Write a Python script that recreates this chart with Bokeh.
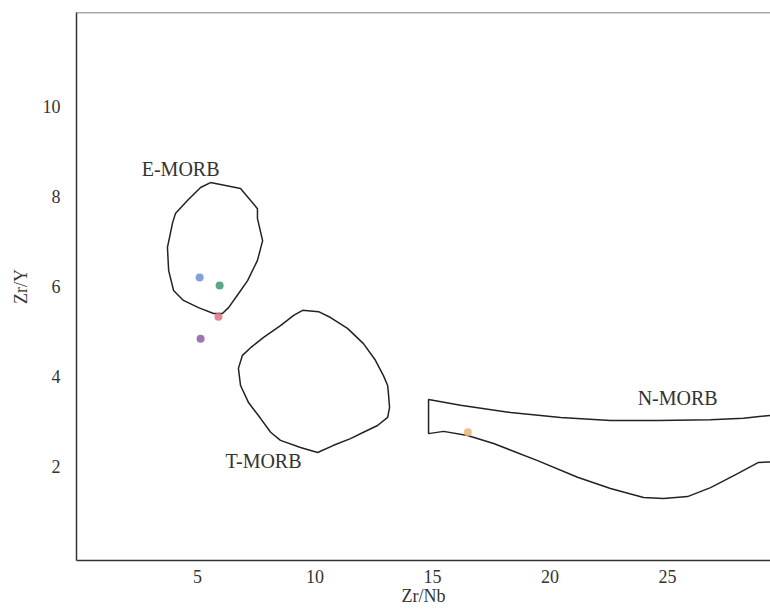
from bokeh.plotting import figure
from bokeh.models import Range1d, FixedTicker, Span
from bokeh.core.properties import value
from bokeh.embed import file_html
from bokeh.resources import INLINE

# ---- data ----
x_ticks = [5, 10, 15, 20, 25]
y_ticks = [2, 4, 6, 8, 10]

emorb_x = [5.55, 6.83, 7.55, 7.55, 7.77, 7.55, 7.13, 6.74, 6.32, 6.06, 5.68, 5.04,
           4.40, 3.98, 3.77, 3.72, 3.94, 4.06, 4.57, 5.13, 5.55]
emorb_y = [8.31, 8.18, 7.73, 7.51, 7.02, 6.58, 6.13, 5.84, 5.53, 5.40, 5.40, 5.53,
           5.69, 5.91, 6.36, 6.87, 7.42, 7.62, 7.91, 8.20, 8.31]

tmorb_x = [9.47, 10.15, 10.66, 11.38, 12.06, 12.57, 12.91, 13.09, 13.13, 13.17, 13.09,
           12.66, 12.06, 11.51, 10.79, 10.11, 9.38, 8.53, 8.11, 7.68, 7.17, 6.83, 6.74,
           6.91, 7.26, 7.81, 8.53, 9.09, 9.47]
tmorb_y = [5.47, 5.44, 5.31, 5.07, 4.73, 4.36, 4.02, 3.80, 3.58, 3.31, 3.09,
           2.91, 2.76, 2.62, 2.47, 2.31, 2.42, 2.58, 2.76, 3.07, 3.42, 3.80, 4.18,
           4.47, 4.64, 4.87, 5.13, 5.36, 5.47]

nmorb_x = [29.80, 28.23, 26.83, 24.57, 22.57, 20.45, 18.32, 16.19, 14.83,
           14.83, 15.47, 16.49, 17.60, 19.47, 21.17, 22.57, 23.98, 24.83, 25.85,
           26.83, 27.98, 28.87, 29.80]
nmorb_y = [3.16, 3.07, 3.04, 3.02, 3.02, 3.09, 3.20, 3.36, 3.49,
           2.73, 2.78, 2.69, 2.51, 2.13, 1.76, 1.51, 1.31, 1.29, 1.33,
           1.53, 1.84, 2.09, 2.11]

sample_x = [5.09, 5.94, 5.89, 5.13, 16.5]
sample_y = [6.20, 6.02, 5.33, 4.84, 2.76]
sample_colors = ["#6f8fd6", "#3f9670", "#e0707c", "#8f5ca3", "#eab476"]

region_names = ["E-MORB", "T-MORB", "N-MORB"]
region_label_x = [4.28, 7.81, 25.43]
region_label_y = [8.62, 2.13, 3.53]

x_min, x_max = -0.15, 29.38
y_min, y_max = -0.09, 12.09

FONT = "Liberation Serif"
TXT = "#333333"
LINE = "#222222"

p = figure(width=770, height=614, output_backend="svg", toolbar_location=None,
           x_range=Range1d(x_min, x_max), y_range=Range1d(y_min, y_max))
p.min_border_left = 76
p.min_border_right = 0
p.min_border_top = 12
p.min_border_bottom = 54
p.outline_line_color = None
p.xgrid.visible = False
p.ygrid.visible = False
p.background_fill_color = "white"
p.border_fill_color = "white"

for ax in (p.xaxis[0], p.yaxis[0]):
    ax.axis_line_color = "#333333"
    ax.axis_line_width = 1.5
    ax.major_tick_in = 0
    ax.major_tick_out = 0
    ax.minor_tick_in = 0
    ax.minor_tick_out = 0
    ax.major_label_text_font = FONT
    ax.major_label_text_font_size = "18px"
    ax.major_label_text_color = TXT
    ax.axis_label_text_font = FONT
    ax.axis_label_text_font_size = "18px"
    ax.axis_label_text_font_style = "normal"
    ax.axis_label_text_color = TXT

p.xaxis.ticker = FixedTicker(ticks=x_ticks)
p.yaxis.ticker = FixedTicker(ticks=y_ticks)
p.xaxis.major_label_standoff = 9
p.xaxis.axis_label = "Zr/Nb"
p.xaxis.axis_label_standoff = 0
p.yaxis.major_label_standoff = 16
p.yaxis.axis_label = "Zr/Y"
p.yaxis.axis_label_standoff = 9

# top border line
p.add_layout(Span(location=y_max, dimension="width", line_color="#555555", line_width=1.5))

# field outlines
p.line(emorb_x, emorb_y, line_color=LINE, line_width=1.5)
p.line(tmorb_x, tmorb_y, line_color=LINE, line_width=1.5)
p.line(nmorb_x, nmorb_y, line_color=LINE, line_width=1.5)

# field names
p.text(region_label_x, region_label_y, text=region_names, text_align="center",
       text_baseline="middle", text_font=value(FONT), text_font_size="20px",
       text_color=TXT)

# samples
p.scatter(sample_x, sample_y, size=8, fill_color=sample_colors, line_color=None,
          fill_alpha=0.85)

open("out.html", "w").write(file_html(p, INLINE))
